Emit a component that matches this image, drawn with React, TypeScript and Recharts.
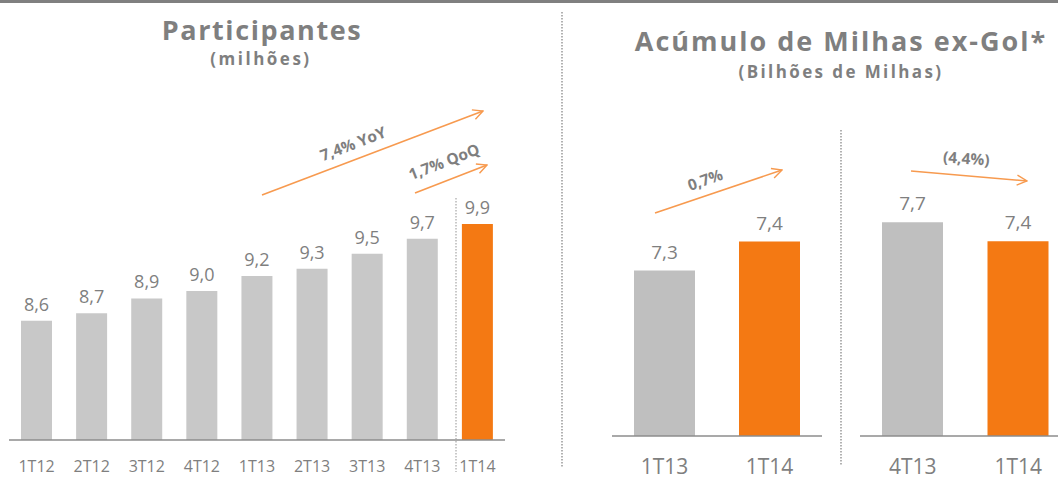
import React from "react";
import { BarChart, Bar, XAxis, YAxis, Cell, LabelList } from "recharts";

// Participantes (milhões)
const partCategories = ["1T12", "2T12", "3T12", "4T12", "1T13", "2T13", "3T13", "4T13", "1T14"];
const partValues = [8.6, 8.7, 8.9, 9.0, 9.2, 9.3, 9.5, 9.7, 9.9];

// Acúmulo de Milhas ex-Gol (bilhões)
const yoyCategories = ["1T13", "1T14"];
const yoyValues = [7.3, 7.4];
const qoqCategories = ["4T13", "1T14"];
const qoqValues = [7.7, 7.4];

const GRAY_TEXT = "#7f7f7f";
const ORANGE = "#f47913";
const ARROW = "#f79a4f";

const fmt = (v: number) => v.toFixed(1).replace(".", ",");

const toRows = (cats: string[], vals: number[]) => cats.map((c, i) => ({ cat: c, value: vals[i] }));

function SmallChart({
  cats,
  vals,
  domain,
  width,
  left,
  grayFill,
}: {
  cats: string[];
  vals: number[];
  domain: [number, number];
  width: number;
  left: number;
  grayFill: string;
}) {
  const data = toRows(cats, vals);
  return (
    <div style={{ position: "absolute", left, top: 0 }}>
      <BarChart width={width} height={482} data={data} margin={{ top: 140, right: 0, left: 19, bottom: 16 }}>
        <XAxis
          dataKey="cat"
          height={30}
          axisLine={{ stroke: "#8c8c8c", strokeWidth: 1.5 }}
          tickLine={false}
          tickMargin={17}
          tick={{ fill: GRAY_TEXT, fontSize: 21, fontFamily: "Open Sans" }}
        />
        <YAxis hide domain={domain} allowDataOverflow />
        <Bar dataKey="value" barSize={61} isAnimationActive={false}>
          {data.map((d, i) => (
            <Cell key={d.cat} fill={i === data.length - 1 ? ORANGE : grayFill} />
          ))}
          <LabelList
            dataKey="value"
            position="top"
            offset={12}
            formatter={(v: any) => fmt(Number(v))}
            style={{ fill: GRAY_TEXT, fontSize: 19, fontFamily: "Open Sans" }}
          />
        </Bar>
      </BarChart>
    </div>
  );
}

const titleStyle = { fontFamily: "Open Sans", fontWeight: 700 } as const;

export default function App() {
  const partData = toRows(partCategories, partValues);
  return (
    <div
      style={{
        position: "absolute",
        left: 0,
        top: 0,
        width: 1058,
        height: 482,
        overflow: "hidden",
        background: "#fff",
      }}
    >
      <div style={{ position: "absolute", left: 0, top: 0 }}>
        <BarChart width={540} height={482} data={partData} margin={{ top: 142, right: 35, left: 9, bottom: 12 }}>
          <XAxis
            dataKey="cat"
            height={30}
            axisLine={{ stroke: "#8c8c8c", strokeWidth: 1.5 }}
            tickLine={false}
            tickMargin={15}
            tick={{ fill: GRAY_TEXT, fontSize: 16, fontFamily: "Open Sans" }}
          />
          <YAxis hide domain={[7, 11]} allowDataOverflow />
          <Bar dataKey="value" barSize={31} isAnimationActive={false}>
            {partData.map((d, i) => (
              <Cell key={d.cat} fill={i === partData.length - 1 ? ORANGE : "#c8c8c8"} />
            ))}
            <LabelList
              dataKey="value"
              position="top"
              offset={10}
              formatter={(v: any) => fmt(Number(v))}
              style={{ fill: GRAY_TEXT, fontSize: 18, fontFamily: "Open Sans" }}
            />
          </Bar>
        </BarChart>
      </div>

      <SmallChart cats={yoyCategories} vals={yoyValues} domain={[6.73, 7.75]} width={229} left={593} grayFill="#bfbfbf" />
      <SmallChart cats={qoqCategories} vals={qoqValues} domain={[4.32, 9.0]} width={230} left={841} grayFill="#bfbfbf" />

      <svg width={1058} height={482} style={{ position: "absolute", left: 0, top: 0, pointerEvents: "none" }}>
        <defs>
          <marker id="chev" viewBox="0 0 12 12" refX="11" refY="6" markerWidth="12" markerHeight="12" markerUnits="userSpaceOnUse" orient="auto">
            <path d="M1,1 L11,6 L1,11" fill="none" stroke={ARROW} strokeWidth={1.4} />
          </marker>
        </defs>
        <rect x={0} y={0} width={1058} height={3} fill="#808080" />

        {/* separators */}
        <line x1={456} y1={198} x2={456} y2={472} stroke="#a6a6a6" strokeDasharray="1.5 1.5" strokeWidth={1.2} />
        <line x1={562} y1={12} x2={562} y2={468} stroke="#7f7f7f" strokeDasharray="1.5 1.5" strokeWidth={1.2} />
        <line x1={841} y1={130} x2={841} y2={465} stroke="#7f7f7f" strokeDasharray="1.5 1.5" strokeWidth={1.2} />

        {/* growth arrows */}
        <line x1={262} y1={195} x2={483} y2={111} stroke={ARROW} strokeWidth={1.6} markerEnd="url(#chev)" />
        <line x1={415} y1={193} x2={487} y2={165} stroke={ARROW} strokeWidth={1.6} markerEnd="url(#chev)" />
        <line x1={655} y1={213} x2={782} y2={170} stroke={ARROW} strokeWidth={1.6} markerEnd="url(#chev)" />
        <line x1={911} y1={171} x2={1027} y2={181} stroke={ARROW} strokeWidth={1.6} markerEnd="url(#chev)" />

        <g style={{ fontFamily: "Open Sans", fontWeight: 700, fontSize: 15.5 }} fill={GRAY_TEXT} textAnchor="middle">
          <text transform="translate(355,149) rotate(-21)">7,4% YoY</text>
          <text transform="translate(446,167) rotate(-21)">1,7% QoQ</text>
          <text transform="translate(707,185) rotate(-19)">0,7%</text>
          <text transform="translate(966,164) rotate(4)">(4,4%)</text>
        </g>

        <g fill={GRAY_TEXT} textAnchor="middle">
          <text x={262} y={40} style={{ ...titleStyle, fontSize: 27, letterSpacing: 1.6 }}>Participantes</text>
          <text x={261} y={65} style={{ ...titleStyle, fontSize: 17, letterSpacing: 2.5 }}>(milhões)</text>
          <text x={841} y={51} style={{ ...titleStyle, fontSize: 27, letterSpacing: 2 }}>Acúmulo de Milhas ex-Gol*</text>
          <text x={841} y={78} style={{ ...titleStyle, fontSize: 17, letterSpacing: 2.4 }}>(Bilhões de Milhas)</text>
        </g>
      </svg>
    </div>
  );
}
